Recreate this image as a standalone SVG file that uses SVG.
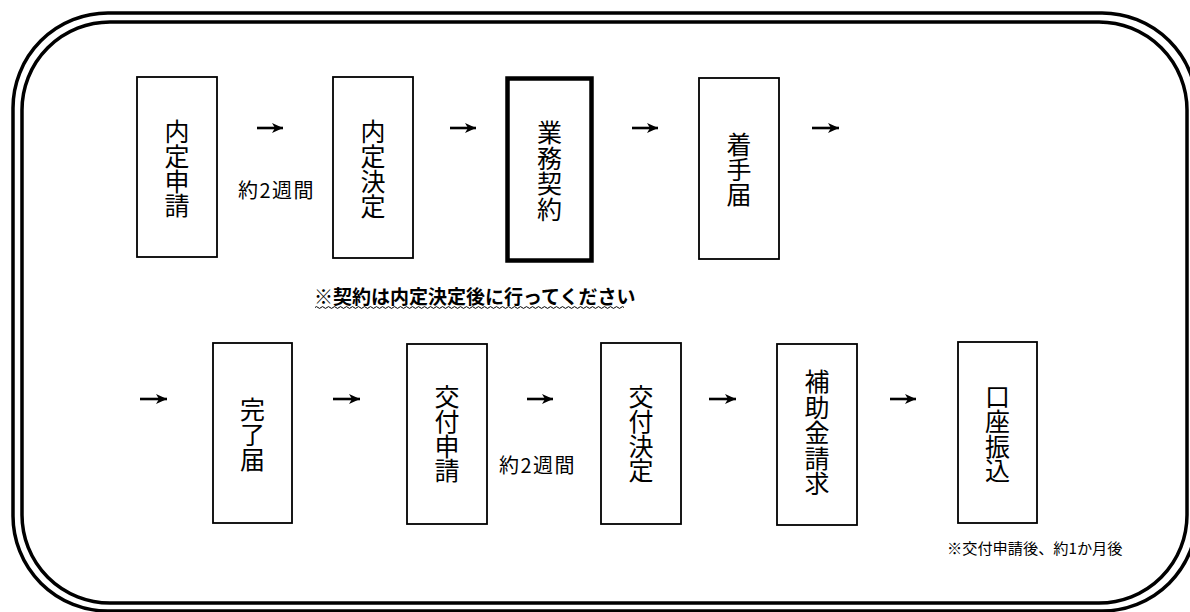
<svg xmlns="http://www.w3.org/2000/svg" width="1190" height="612" viewBox="0 0 1190 612">
<style>
.frame{fill:none;stroke:#000;stroke-width:3.5}
.box{fill:#fff;stroke:#000;stroke-width:1.8}
.bold{fill:#fff;stroke:#000;stroke-width:4.5}
.lbl{font-family:"Noto Sans CJK JP","Noto Sans CJK SC",sans-serif;font-size:25px;fill:#000;text-anchor:middle}
.dur{font-family:"Noto Sans CJK JP","Noto Sans CJK SC",sans-serif;font-size:20px;fill:#000;letter-spacing:1.5px}
.note{font-family:"Noto Sans CJK JP","Noto Sans CJK SC",sans-serif;font-size:15.2px;fill:#000}
.warn{font-family:"Noto Sans CJK JP","Noto Sans CJK SC",sans-serif;font-size:19px;font-weight:bold;fill:#000}
.arr{stroke:#000;stroke-width:2.6;fill:none;marker-end:url(#ah)}
</style>
<defs>
<marker id="ah" markerUnits="userSpaceOnUse" markerWidth="12" markerHeight="11" viewBox="0 0 12 11" refX="11" refY="5.5" orient="auto">
<path d="M0,0.5 L11,5.5 L0,10.5 L3,5.5 Z" fill="#000"/>
</marker>
</defs>
<rect width="1190" height="612" fill="#fff"/>
<g id="frame">
<rect class="frame" x="13" y="13" width="1184" height="598" rx="95" ry="95"/>
<rect class="frame" x="22" y="22" width="1165" height="581" rx="88" ry="88"/>
</g>
<g id="connectors">
<line class="arr" x1="257" y1="128" x2="283" y2="128"/>
<line class="arr" x1="450" y1="128" x2="476" y2="128"/>
<line class="arr" x1="632" y1="128" x2="658" y2="128"/>
<line class="arr" x1="812" y1="128" x2="839" y2="128"/>
<line class="arr" x1="140" y1="399" x2="167" y2="399"/>
<line class="arr" x1="333" y1="399" x2="360" y2="399"/>
<line class="arr" x1="527" y1="399" x2="553" y2="399"/>
<line class="arr" x1="709" y1="399" x2="736" y2="399"/>
<line class="arr" x1="890" y1="399" x2="916" y2="399"/>
</g>
<g id="n1">
<rect class="box" x="137" y="77" width="80" height="180"/>
<text class="lbl"><tspan x="177" y="141">内</tspan><tspan x="177" y="165.8">定</tspan><tspan x="177" y="190.6">申</tspan><tspan x="177" y="215.4">請</tspan></text>
</g>
<g id="n2">
<rect class="box" x="333" y="77" width="80" height="181"/>
<text class="lbl"><tspan x="373" y="141">内</tspan><tspan x="373" y="166">定</tspan><tspan x="373" y="191">決</tspan><tspan x="373" y="216">定</tspan></text>
</g>
<g id="n3">
<rect class="bold" x="507.5" y="78.5" width="84" height="182"/>
<text class="lbl"><tspan x="549.5" y="142">業</tspan><tspan x="549.5" y="167.5">務</tspan><tspan x="549.5" y="193">契</tspan><tspan x="549.5" y="218.5">約</tspan></text>
</g>
<g id="n4">
<rect class="box" x="699" y="78" width="80" height="181"/>
<text class="lbl"><tspan x="739" y="154">着</tspan><tspan x="739" y="178.8">手</tspan><tspan x="739" y="203.6">届</tspan></text>
</g>
<g id="n5">
<rect class="box" x="213" y="343" width="79" height="180"/>
<text class="lbl"><tspan x="252.5" y="419">完</tspan><tspan x="252.5" y="443.8">了</tspan><tspan x="252.5" y="468.6">届</tspan></text>
</g>
<g id="n6">
<rect class="box" x="407" y="344" width="80" height="180"/>
<text class="lbl"><tspan x="447" y="406">交</tspan><tspan x="447" y="430.8">付</tspan><tspan x="447" y="455.6">申</tspan><tspan x="447" y="480.4">請</tspan></text>
</g>
<g id="n7">
<rect class="box" x="601" y="343" width="80" height="181"/>
<text class="lbl"><tspan x="641" y="406">交</tspan><tspan x="641" y="430.8">付</tspan><tspan x="641" y="455.6">決</tspan><tspan x="641" y="480.4">定</tspan></text>
</g>
<g id="n8">
<rect class="box" x="777" y="344" width="80" height="181"/>
<text class="lbl"><tspan x="817" y="391">補</tspan><tspan x="817" y="416.5">助</tspan><tspan x="817" y="442">金</tspan><tspan x="817" y="467.5">請</tspan><tspan x="817" y="493">求</tspan></text>
</g>
<g id="n9">
<rect class="box" x="958" y="342" width="79" height="181"/>
<text class="lbl"><tspan x="997.5" y="406">口</tspan><tspan x="997.5" y="430.8">座</tspan><tspan x="997.5" y="455.6">振</tspan><tspan x="997.5" y="480.4">込</tspan></text>
</g>
<g id="labels">
<text class="dur" x="238" y="198">約2週間</text>
<text class="dur" x="499" y="473">約2週間</text>
<text class="warn" x="314" y="304">※契約は内定決定後に行ってください</text>
<path d="M315,307.5 q1.5,-1.8 3,0 t3,0 t3,0 t3,0 t3,0 t3,0 t3,0 t3,0 t3,0 t3,0 t3,0 t3,0 t3,0 t3,0 t3,0 t3,0 t3,0 t3,0 t3,0 t3,0 t3,0 t3,0 t3,0 t3,0 t3,0 t3,0 t3,0 t3,0 t3,0 t3,0 t3,0 t3,0 t3,0 t3,0 t3,0 t3,0 t3,0 t3,0 t3,0 t3,0 t3,0 t3,0 t3,0 t3,0 t3,0 t3,0 t3,0 t3,0 t3,0 t3,0 t3,0 t3,0 t3,0 t3,0 t3,0 t3,0 t3,0 t3,0 t3,0 t3,0 t3,0 t3,0 t3,0 t3,0 t3,0 t3,0 t3,0 t3,0 t3,0 t3,0 t3,0 t3,0 t3,0 t3,0 t3,0 t3,0 t3,0 t3,0 t3,0 t3,0 t3,0 t3,0 t3,0 t3,0 t3,0 t3,0 t3,0 t3,0 t3,0 t3,0 t3,0 t3,0 t3,0 t3,0 t3,0 t3,0 t3,0 t3,0 t3,0 t3,0 t3,0 t3,0 t3,0" fill="none" stroke="#000" stroke-width="1"/>
<text class="note" x="947" y="554">※交付申請後、約1か月後</text>
</g>
</svg>
